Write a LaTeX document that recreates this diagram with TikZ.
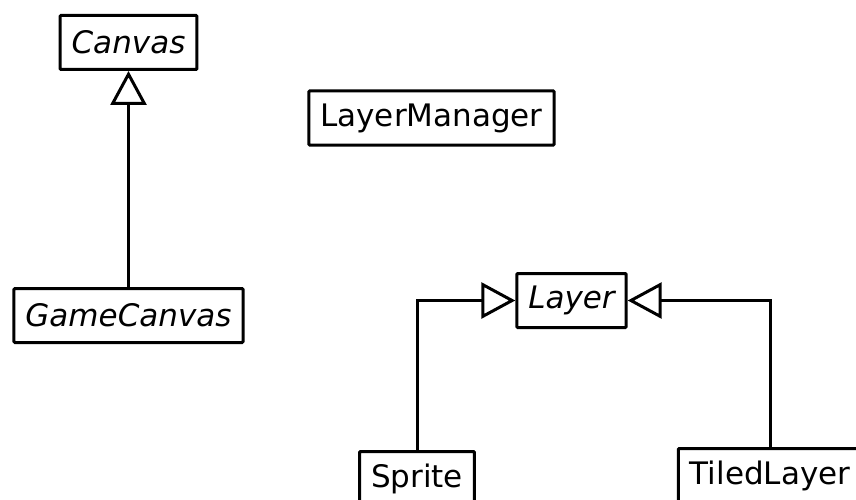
\documentclass[tikz,border=0pt]{standalone}
\usepackage{fontspec}
\setmainfont{DejaVu Sans}
\usetikzlibrary{arrows.meta}
\begin{document}
\begin{tikzpicture}[
		x=1pt, y=-1pt,
		cls/.style={draw, line width=3pt, fill=white, rounded corners=1pt, inner xsep=11.5pt, inner ysep=0pt, minimum height=54pt, font=\fontsize{31}{36}\selectfont},
		abst/.style={cls, font=\fontsize{31}{36}\selectfont\itshape},
		inherit/.style={line width=3pt, -{Triangle[open, length=34pt, width=36pt, line width=3pt]}}
		]
		\clip (0,0) rectangle (856,500);
		\node[abst] (cv) at (128.5,42.5) {Canvas};
		\node[abst] (gc) at (128.5,315.5) {GameCanvas};
		\node[cls] (lm) at (431.5,118) {LayerManager};
		\node[abst] (ly) at (571.5,300.5) {Layer};
		\node[cls] (sp) at (417,478.5) {Sprite};
		\node[cls] (tl) at (770,475.5) {TiledLayer};
		\draw[inherit] (gc) -- (cv);
		\draw[inherit] (sp) |- (ly);
		\draw[inherit] (tl) |- (ly);
	\end{tikzpicture}
\end{document}
